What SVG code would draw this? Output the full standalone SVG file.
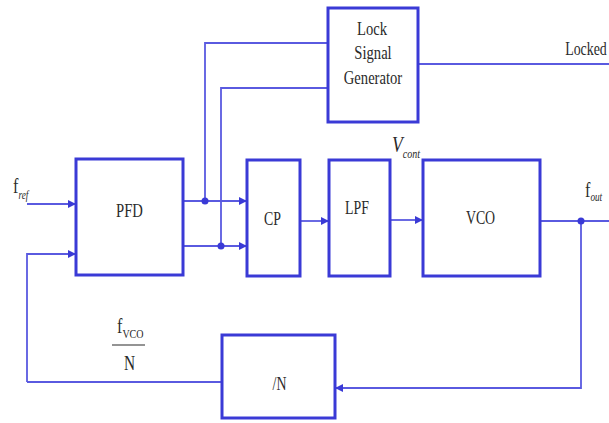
<svg xmlns="http://www.w3.org/2000/svg" width="609" height="423" viewBox="0 0 609 423">
<style>
.box{fill:#fff;stroke:#3a3ad6;stroke-width:3}
.ln{fill:none;stroke:#5a5ae0;stroke-width:1.8}
text{font-family:'Liberation Serif','Times New Roman',serif;font-size:18px;fill:#2a2a2a;text-anchor:middle}
.it{font-style:italic}
.dot{fill:#3a3ad6}
</style>
<defs>
<marker id="ah" markerWidth="8" markerHeight="8" refX="7" refY="4" orient="auto" markerUnits="userSpaceOnUse">
<path d="M0,0 L8,4 L0,8 Z" fill="#3a3ad6"/>
</marker>
</defs>
<rect width="609" height="423" fill="#fff"/>
<g id="connectors">
<path class="ln" d="M27,204 H75" marker-end="url(#ah)"/>
<path class="ln" d="M27,382 V254 H75" marker-end="url(#ah)"/>
<path class="ln" d="M183,201 H246" marker-end="url(#ah)"/>
<path class="ln" d="M183,246 H246" marker-end="url(#ah)"/>
<path class="ln" d="M205,201 V43 H328"/>
<path class="ln" d="M221,246 V88 H328"/>
<path class="ln" d="M418,64 H609"/>
<path class="ln" d="M300,221 H328" marker-end="url(#ah)"/>
<path class="ln" d="M390,220 H422" marker-end="url(#ah)"/>
<path class="ln" d="M540,221 H609"/>
<path class="ln" d="M581,221 V388 H336" marker-end="url(#ah)"/>
<path class="ln" d="M222,382 H27"/>
<circle class="dot" cx="205" cy="201" r="3.5"/>
<circle class="dot" cx="221" cy="246" r="3.5"/>
<circle class="dot" cx="581" cy="221" r="3.5"/>
</g>
<g id="pfd"><rect class="box" x="76" y="159" width="107" height="116"/><text transform="matrix(0.77 0 0 1 129.5 217)" style="font-size:19px">PFD</text></g>
<g id="lsg"><rect class="box" x="328" y="8" width="90" height="114"/>
<text transform="matrix(0.77 0 0 1 372 35)" style="font-size:19px">Lock</text>
<text transform="matrix(0.77 0 0 1 373 59)" style="font-size:19px">Signal</text>
<text transform="matrix(0.77 0 0 1 373 84)" style="font-size:19px">Generator</text></g>
<g id="cp"><rect class="box" x="247" y="160" width="53" height="116"/><text transform="matrix(0.77 0 0 1 272.5 225)">CP</text></g>
<g id="lpf"><rect class="box" x="329" y="160" width="61" height="116"/><text transform="matrix(0.77 0 0 1 357 214)">LPF</text></g>
<g id="vco"><rect class="box" x="423" y="160" width="117" height="116"/><text transform="matrix(0.77 0 0 1 480.5 224)">VCO</text></g>
<g id="divn"><rect class="box" x="222" y="335" width="113" height="83"/><text transform="matrix(0.77 0 0 1 279.5 390)">/N</text></g>
<g id="labels">
<text transform="matrix(0.77 0 0 1 13 193)" style="text-anchor:start;font-size:21px">f<tspan class="it" style="font-size:12px" dy="6">ref</tspan></text>
<text transform="matrix(0.77 0 0 1 585 197)" style="text-anchor:start;font-size:21px">f<tspan class="it" style="font-size:12px" dy="4">out</tspan></text>
<text class="it" transform="matrix(0.77 0 0 1 392 152)" style="text-anchor:start;font-size:23px">V<tspan style="font-size:13px" dy="6">cont</tspan></text>
<text transform="matrix(0.77 0 0 1 586 55)">Locked</text>
<text transform="matrix(0.77 0 0 1 117 333)" style="text-anchor:start;font-size:21px">f<tspan style="font-size:13px" dy="5">VCO</tspan></text>
<line x1="112" y1="345" x2="145" y2="345" stroke="#2a2a2a" stroke-width="1.2"/>
<text transform="matrix(0.77 0 0 1 129.5 370)" style="font-size:20px">N</text>
</g>
</svg>
